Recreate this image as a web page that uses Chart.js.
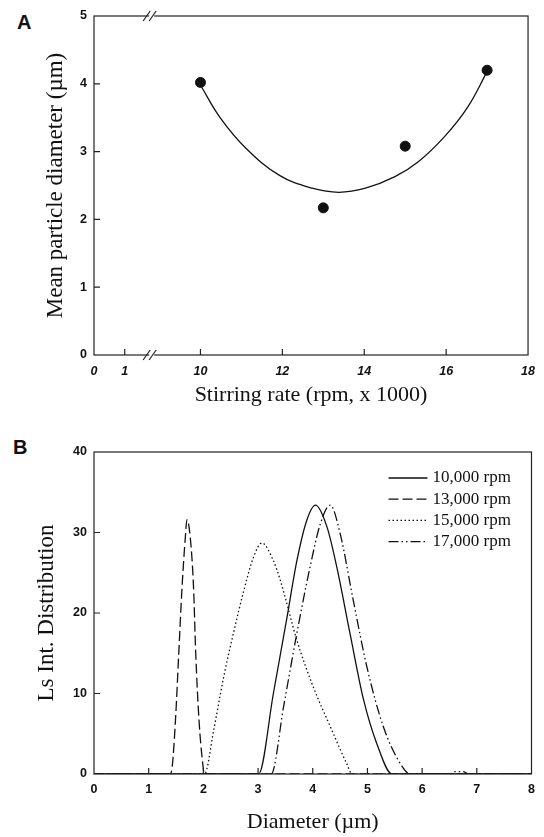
<!DOCTYPE html>
<html>
<head>
<meta charset="utf-8">
<script src="https://cdn.jsdelivr.net/npm/chart.js@4.4.1/dist/chart.umd.min.js"></script>
<style>
  body { margin: 0; background: #fff; }
  #wrap { position: relative; width: 544px; height: 837px; overflow: hidden; }
  #wrap canvas { position: absolute; left: 0; }
  #chartA { top: 0; }
  #chartB { top: 415px; }
  .tag { position: absolute; font: bold 20px "Liberation Sans", Arial, sans-serif; line-height: 1; color: #111; }
</style>
</head>
<body>
<div id="wrap">
  <div class="tag" style="left:17px;top:12px">A</div>
  <div class="tag" style="left:13px;top:437px">B</div>
  <canvas id="chartA" width="544" height="415"></canvas>
  <canvas id="chartB" width="544" height="422"></canvas>
</div>
<script>
(function(Chart) {
  'use strict';

  // --- panel A: mean diameter vs stirring rate
  var rpmTicks     = [0, 1, 10, 12, 14, 16, 18];
  var rpm          = [10, 13, 15, 17];
  var meanDiameter = [4.02, 2.17, 3.08, 4.20];
  var fitRpm       = [10.02, 10.47, 11.11, 11.93, 12.73, 13.38, 14.03, 14.75, 15.32, 15.96, 16.53, 17.0];
  var fitDiameter  = [3.96, 3.51, 3.05, 2.65, 2.46, 2.40, 2.46, 2.63, 2.85, 3.22, 3.66, 4.18];

  // --- panel B: size distributions
  var seriesNames = ['10,000 rpm', '13,000 rpm', '15,000 rpm', '17,000 rpm'];

  var diam10k = [0, 3.01, 3.28, 3.53, 3.71, 3.89, 4.05, 4.26, 4.44, 4.68, 4.93, 5.17, 5.45, 8];
  var ls10k   = [0, 0, 10.0, 19.5, 26.5, 31.5, 33.4, 30.7, 25.7, 17.5, 9.2, 3.8, 0, 0];

  var diam13k = [0, 1.39, 1.43, 1.49, 1.55, 1.61, 1.67, 1.70, 1.76, 1.82, 1.86, 1.92, 1.98, 2.02, 8];
  var ls13k   = [0, 0, 0.9, 6.7, 15.0, 23.2, 29.4, 31.6, 29.4, 23.2, 15.0, 6.7, 1.8, 0, 0];

  var diam15k = [0, 2.02, 2.19, 2.37, 2.55, 2.74, 2.92, 3.07, 3.28, 3.41, 3.71, 4.01, 4.32, 4.62, 4.72, 8];
  var ls15k   = [0, 0, 5.5, 12.0, 17.5, 22.8, 27.0, 28.7, 26.5, 24.0, 16.6, 10.8, 5.9, 1.3, 0, 0];

  var diam17k = [0, 3.24, 3.47, 3.71, 3.95, 4.14, 4.32, 4.50, 4.74, 4.99, 5.29, 5.60, 5.78, 6.5, 6.6, 6.75, 6.85, 8];
  var ls17k   = [0, 0, 8.5, 17.5, 25.7, 31.1, 33.4, 29.9, 21.6, 13.3, 5.9, 1.3, 0, 0, 0.3, 0.3, 0, 0];

  var ink   = '#111';
  var serif = '"Liberation Serif", "Times New Roman", serif';
  var sans  = '"Liberation Sans", Arial, sans-serif';

  // 0 and 1 sit left of the axis break, the rest is true scale
  function axisPos(v) { return v < 10 ? 7.4 + v * 0.75 : v; }
  var breakPos = 8.82;

  function pairs(xs, ys) {
    return xs.map(function(x, i) { return { x: x, y: ys[i] }; });
  }

  // box round the plot, short inward ticks, and the // break marks
  function framePlugin(breakAt) {
    return {
      id: 'frame',
      afterDatasetsDraw: function(chart) {
        var ctx = chart.ctx, a = chart.chartArea;
        var xs = chart.scales.x, ys = chart.scales.y;
        ctx.save();
        ctx.strokeStyle = '#222';
        ctx.lineWidth = 1.2;
        ctx.setLineDash([]);
        ctx.strokeRect(a.left, a.top, a.right - a.left, a.bottom - a.top);
        ctx.beginPath();
        xs.ticks.forEach(function(t) {
          var px = xs.getPixelForValue(t.value);
          if (px <= a.left + 1 || px >= a.right - 1) return;
          ctx.moveTo(px, a.bottom); ctx.lineTo(px, a.bottom - 6);
        });
        ys.ticks.forEach(function(t) {
          var py = ys.getPixelForValue(t.value);
          if (py <= a.top + 1 || py >= a.bottom - 1) return;
          ctx.moveTo(a.left, py); ctx.lineTo(a.left + 6, py);
        });
        ctx.stroke();

        if (breakAt != null) {
          var bx = xs.getPixelForValue(breakAt);
          [a.top, a.bottom].forEach(function(y) {
            ctx.fillStyle = '#fff';
            ctx.fillRect(bx - 3, y - 2, 5, 4);
            ctx.beginPath();
            ctx.moveTo(bx - 9, y + 5); ctx.lineTo(bx - 2, y - 5);
            ctx.moveTo(bx - 3, y + 5); ctx.lineTo(bx + 4, y - 5);
            ctx.stroke();
          });
        }
        ctx.restore();
      }
    };
  }

  // TODO maybe use the built-in legend, this is simpler to place
  var legendPlugin = {
    id: 'lineLegend',
    afterDatasetsDraw: function(chart) {
      var ctx = chart.ctx, a = chart.chartArea;
      ctx.save();
      ctx.font = '17px ' + serif;
      ctx.textBaseline = 'middle';
      ctx.fillStyle = ink;
      chart.data.datasets.forEach(function(ds, i) {
        var y = a.top + 26 + i * 21.2;
        ctx.strokeStyle = ds.borderColor;
        ctx.lineWidth = ds.borderWidth;
        ctx.setLineDash(ds.borderDash || []);
        ctx.beginPath();
        ctx.moveTo(a.right - 143, y);
        ctx.lineTo(a.right - 104, y);
        ctx.stroke();
        ctx.fillText(ds.label, a.right - 99, y);
      });
      ctx.restore();
    }
  };

  var tickFont = { family: sans, size: 12.5, weight: 'bold' };
  var noGrid = { display: false, drawTicks: false };

  Chart.defaults.color = ink;

  new Chart(document.getElementById('chartA'), {
    type: 'line',
    data: {
      datasets: [{
        label: 'fit',
        data: pairs(fitRpm, fitDiameter),
        borderColor: ink,
        borderWidth: 1.3,
        pointRadius: 0,
        tension: 0.4,
        fill: false
      }, {
        label: 'mean',
        data: pairs(rpm, meanDiameter),
        showLine: false,
        pointRadius: 5,
        pointBackgroundColor: ink,
        pointBorderColor: ink
      }]
    },
    options: {
      responsive: false,
      animation: false,
      devicePixelRatio: 1,
      layout: { padding: { top: 16, right: 12.5, left: 0, bottom: 0 } },
      plugins: { legend: { display: false }, tooltip: { enabled: false } },
      scales: {
        x: {
          type: 'linear',
          min: axisPos(0),
          max: 18,
          afterBuildTicks: function(s) {
            s.ticks = rpmTicks.map(function(v) { return { value: axisPos(v) }; });
          },
          afterFit: function(s) { s.height = 60; },
          grid: noGrid,
          border: { display: false },
          ticks: {
            autoSkip: false,
            maxRotation: 0,
            padding: 9,
            font: { family: sans, size: 12.5, weight: 'bold', style: 'italic' },
            callback: function(v, i) { return String(rpmTicks[i]); }
          },
          title: {
            display: true,
            text: 'Stirring rate (rpm, x 1000)',
            font: { family: serif, size: 22 },
            padding: { top: 0, bottom: 6.8 }
          }
        },
        y: {
          min: 0,
          max: 5,
          afterFit: function(s) { s.width = 94; },
          grid: noGrid,
          border: { display: false },
          ticks: { stepSize: 1, padding: 7, font: tickFont },
          title: {
            display: true,
            text: 'Mean particle diameter (µm)',
            font: { family: serif, size: 23 },
            padding: { top: 42, bottom: 0 }
          }
        }
      }
    },
    plugins: [framePlugin(breakPos)]
  });

  var dashes = [[], [10, 4], [1.5, 2.5], [10, 3, 1.5, 3, 1.5, 3]];
  var diams  = [diam10k, diam13k, diam15k, diam17k];
  var levels = [ls10k, ls13k, ls15k, ls17k];

  new Chart(document.getElementById('chartB'), {
    type: 'line',
    data: {
      datasets: seriesNames.map(function(name, i) {
        return {
          label: name,
          data: pairs(diams[i], levels[i]),
          borderColor: ink,
          borderWidth: 1.3,
          borderDash: dashes[i],
          pointRadius: 0,
          cubicInterpolationMode: 'monotone',
          fill: false
        };
      })
    },
    options: {
      responsive: false,
      animation: false,
      devicePixelRatio: 1,
      layout: { padding: { top: 37, right: 12.5, left: 0, bottom: 0 } },
      plugins: { legend: { display: false }, tooltip: { enabled: false } },
      scales: {
        x: {
          type: 'linear',
          min: 0,
          max: 8,
          afterFit: function(s) { s.height = 63; },
          grid: noGrid,
          border: { display: false },
          ticks: { stepSize: 1, autoSkip: false, maxRotation: 0, padding: 8, font: tickFont },
          title: {
            display: true,
            text: 'Diameter (µm)',
            font: { family: serif, size: 22 },
            padding: { top: 0, bottom: 2 }
          }
        },
        y: {
          min: 0,
          max: 40,
          afterFit: function(s) { s.width = 94; },
          grid: noGrid,
          border: { display: false },
          ticks: { stepSize: 10, padding: 7, font: tickFont },
          title: {
            display: true,
            text: 'Ls Int. Distribution',
            font: { family: serif, size: 23 },
            padding: { top: 33, bottom: 0 }
          }
        }
      }
    },
    plugins: [framePlugin(null), legendPlugin]
  });

}(Chart));
</script>
</body>
</html>
